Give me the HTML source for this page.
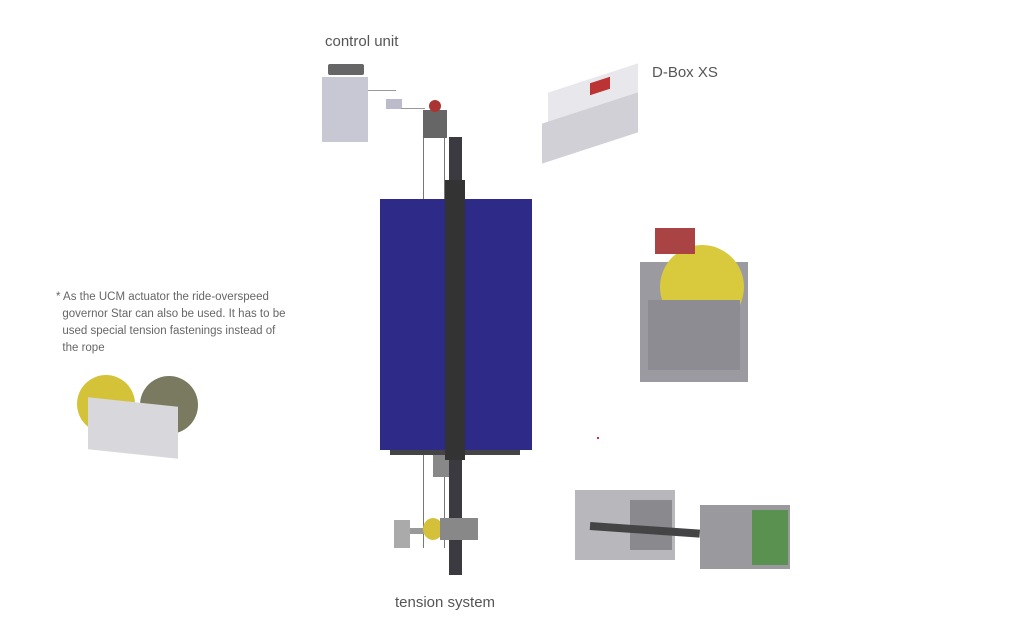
<!DOCTYPE html>
<html><head><style>
body{margin:0;width:1024px;height:636px;background:#fff;position:relative;overflow:hidden;font-family:"Liberation Sans",sans-serif}
div{position:absolute}
.t{color:#555;font-size:15px}
</style></head><body>
<div class="t" style="left:325px;top:33px">control unit</div>
<div class="t" style="left:652px;top:64px">D-Box XS</div>
<div class="t" style="left:395px;top:594px">tension system</div>
<div style="left:56px;top:289px;width:260px;font-size:11.5px;line-height:17px;color:#666;white-space:nowrap">* As the UCM actuator the ride-overspeed<br>&nbsp;&nbsp;governor Star can also be used. It has to be<br>&nbsp;&nbsp;used special tension fastenings instead of<br>&nbsp;&nbsp;the rope</div>

<!-- control unit -->
<div style="left:328px;top:64px;width:36px;height:11px;background:#666;border-radius:2px"></div>
<div style="left:322px;top:77px;width:46px;height:65px;background:#c8c8d4"></div>
<div style="left:368px;top:90px;width:28px;height:1px;background:#999"></div>
<div style="left:386px;top:99px;width:16px;height:10px;background:#bbc"></div>
<div style="left:401px;top:108px;width:24px;height:1px;background:#999"></div>
<div style="left:423px;top:110px;width:24px;height:28px;background:#666"></div>
<div style="left:429px;top:100px;width:12px;height:12px;background:#a33;border-radius:50%"></div>
<div style="left:423px;top:138px;width:1px;height:410px;background:#777"></div>
<div style="left:444px;top:138px;width:1px;height:410px;background:#777"></div>

<!-- car -->
<div style="left:380px;top:199px;width:152px;height:251px;background:#2e2b88"></div>
<div style="left:390px;top:450px;width:130px;height:5px;background:#444"></div>
<div style="left:433px;top:455px;width:18px;height:22px;background:#888"></div>
<!-- rail -->
<div style="left:449px;top:137px;width:13px;height:438px;background:#3a3a40"></div>
<div style="left:445px;top:180px;width:20px;height:280px;background:#333"></div>
<!-- tension -->
<div style="left:394px;top:520px;width:16px;height:28px;background:#aaa"></div>
<div style="left:410px;top:528px;width:15px;height:6px;background:#999"></div>
<div style="left:423px;top:518px;width:20px;height:22px;background:#d4c03a;border-radius:50%"></div>
<div style="left:440px;top:518px;width:38px;height:22px;background:#888"></div>

<!-- D-Box -->
<div style="left:548px;top:78px;width:90px;height:40px;background:#e8e8ec;transform:skewY(-18deg)"></div>
<div style="left:542px;top:108px;width:96px;height:40px;background:#d0d0d6;transform:skewY(-18deg)"></div>
<div style="left:590px;top:80px;width:20px;height:12px;background:#b33;transform:skewY(-18deg)"></div>

<!-- gear unit right -->
<div style="left:640px;top:262px;width:108px;height:120px;background:#9a9aa0"></div>
<div style="left:660px;top:245px;width:84px;height:84px;background:#d8ca3c;border-radius:50%"></div>
<div style="left:655px;top:228px;width:40px;height:26px;background:#a44"></div>
<div style="left:648px;top:300px;width:92px;height:70px;background:#8c8c92"></div>

<!-- governor left -->
<div style="left:77px;top:375px;width:58px;height:58px;background:#d4c238;border-radius:50%"></div>
<div style="left:140px;top:376px;width:58px;height:58px;background:#7a7a60;border-radius:50%"></div>
<div style="left:88px;top:402px;width:90px;height:52px;background:#d8d8dc;transform:skewY(6deg)"></div>

<!-- bottom right -->
<div style="left:575px;top:490px;width:100px;height:70px;background:#b8b8bc"></div>
<div style="left:630px;top:500px;width:42px;height:50px;background:#8a8a8e"></div>
<div style="left:590px;top:522px;width:110px;height:8px;background:#444;transform:rotate(4deg);transform-origin:left"></div>
<div style="left:700px;top:505px;width:90px;height:64px;background:#9a9a9e"></div>
<div style="left:752px;top:510px;width:36px;height:55px;background:#5a9050"></div>
<div style="left:597px;top:437px;width:2px;height:2px;background:#c33"></div>
</body></html>
